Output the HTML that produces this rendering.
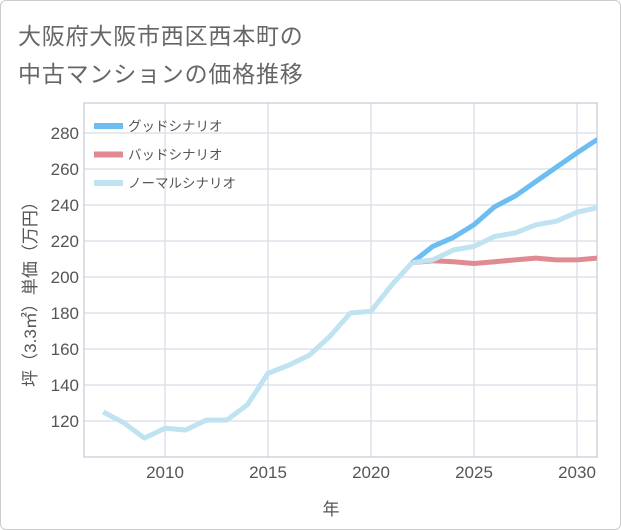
<!DOCTYPE html>
<html><head><meta charset="utf-8">
<style>
body{margin:0;background:#fff;}
#wrap{position:relative;width:619px;height:528px;border:1px solid #ccc;border-radius:6px;background:#fff;font-family:"Liberation Sans","Noto Sans CJK JP",sans-serif;overflow:hidden}
.t{position:absolute;left:17px;font-size:23px;color:#666;letter-spacing:0.8px;white-space:nowrap}
svg text{font-family:"Liberation Sans","Noto Sans CJK JP",sans-serif}
</style></head><body>
<div id="wrap">
<div class="t" style="top:16px">大阪府大阪市西区西本町の</div>
<div class="t" style="top:54px">中古マンションの価格推移</div>
<svg id="chart" width="621" height="530" style="position:absolute;left:-1px;top:-1px"></svg>
</div>
<script>
const years=[2007,2008,2009,2010,2011,2012,2013,2014,2015,2016,2017,2018,2019,2020,2021,2022];
const histValues=[125,119,110.5,116,115,120.5,120.5,129,146.5,151,156.5,167,180,181,195.5,208];
const futureYears=[2022,2023,2024,2025,2026,2027,2028,2029,2030,2031];
const goodValues=[208,217,222,229,239,245,253,261,269,276.5];
const badValues=[208,209,208.5,207.5,208.5,209.5,210.5,209.5,209.5,210.5];
const normalValues=[208,209.5,215,217,222.5,224.5,229,231,236,238.5];
const yTicks=[120,140,160,180,200,220,240,260,280];
const xTicks=[2010,2015,2020,2025,2030];
const NS="http://www.w3.org/2000/svg";
const svg=document.getElementById('chart');
const L=84,R=597,T=103,B=457;
const x=v=>165+(v-2010)*20.6;
const y=v=>421-(v-120)*1.8;
function mk(tag,attrs,parent){const e=document.createElementNS(NS,tag);for(const k in attrs)e.setAttribute(k,attrs[k]);(parent||svg).appendChild(e);return e;}
yTicks.forEach(v=>{
  const g=mk('line',{x1:L,x2:R,y1:y(v),y2:y(v),stroke:'#d5dde6','stroke-width':1.2});
  
  
  const t=mk('text',{x:79,y:y(v)+6,'text-anchor':'end','font-size':17,fill:'#555'});
  t.textContent=v;
  
  
});
xTicks.forEach(v=>{
  const g=mk('line',{x1:x(v),x2:x(v),y1:T,y2:B,stroke:'#d5dde6','stroke-width':1.2});
  
  
  const t=mk('text',{x:x(v),y:478,'text-anchor':'middle','font-size':17,fill:'#555'});
  t.textContent=v;
  
  
});
const frame=mk('rect',{x:L,y:T,width:R-L,height:B-T,fill:'none',stroke:'#b8c2cc','stroke-width':1});


const cp=mk('clipPath',{id:'cp'});mk('rect',{x:L,y:T,width:R-L,height:B-T},cp);
function line(xs,vs,color,name){
  const p=mk('polyline',{points:xs.map((v,i)=>x(v)+','+y(vs[i])).join(' '),fill:'none',stroke:color,'stroke-width':5,'stroke-linejoin':'round','clip-path':'url(#cp)'});
  
  
}
line(futureYears,badValues,'#e08a92','bad-scenario-line');
line(futureYears,goodValues,'#6cbdf2','good-scenario-line');
line(futureYears,normalValues,'#bfe3f0','normal-scenario-line');
line(years,histValues,'#bfe3f0','historical-line');
const leg=[['グッドシナリオ','#6cbdf2'],['バッドシナリオ','#e08a92'],['ノーマルシナリオ','#bfe3f0']];
leg.forEach((l,i)=>{
  const yy=126+i*28.5;
  const s=mk('line',{x1:94,x2:123,y1:yy,y2:yy,stroke:l[1],'stroke-width':6});
  
  
  const t=mk('text',{x:128,y:yy+5,'font-size':13.5,fill:'#555'});
  t.textContent=l[0];
  
  
});
const xt=mk('text',{x:331,y:515,'text-anchor':'middle','font-size':17,fill:'#555'});
xt.textContent='年';


const yt=mk('text',{x:0,y:0,'text-anchor':'middle','font-size':17,fill:'#555',transform:'translate(36,290) rotate(-90)'});
yt.textContent='坪（3.3㎡）単価（万円）';


</script>
</body></html>
